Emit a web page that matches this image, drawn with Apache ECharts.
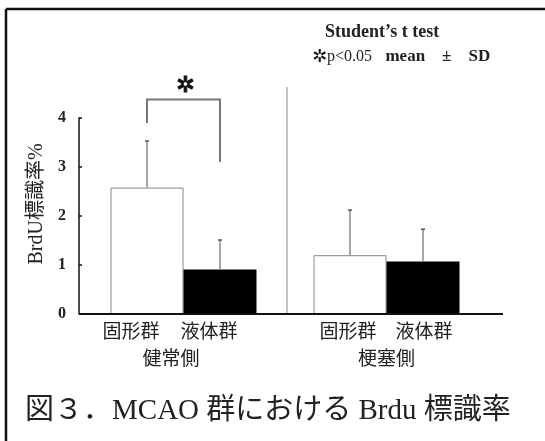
<!DOCTYPE html>
<html><head><meta charset="utf-8">
<script src="https://cdn.jsdelivr.net/npm/echarts@6/dist/echarts.min.js"></script>
<style>html,body{margin:0;padding:0;background:#fff}#c{width:545px;height:441px}</style>
</head><body><div id="c"></div>
<script>
// ---- data ----
const groups = ['健常側', '梗塞側'];
const seriesNames = ['固形群', '液体群'];
const solidMean = [2.58, 1.20];
const solidSD = [0.95, 0.92];
const liquidMean = [0.91, 1.07];
const liquidSD = [0.60, 0.66];
const yTickMax = 4;
const titleLine1 = 'Student’s t test';
const captionText = '図３．MCAO 群における Brdu 標識率';
const yName = 'BrdU標識率%';

// ---- style ----
const SERIF = '"Liberation Serif","Noto Sans CJK JP",serif';
const BAR_W = 73;
const labelShift = [[-16, -2], [-11, 1]]; // [series][group]

const chart = echarts.init(document.getElementById('c'), null, {renderer: 'canvas'});

function barData(means, sIdx) {
  return means.map((v, g) => ({
    value: v,
    label: {offset: [labelShift[sIdx][g], 0]}
  }));
}

const errData = [];
[solidMean, liquidMean].forEach((m, s) => {
  const sd = s === 0 ? solidSD : liquidSD;
  m.forEach((v, g) => errData.push([g, v, sd[g], s]));
});

// significance bracket annotation (data units)
const BR_TOP = 4.38, BR_LEFT = 3.90, BR_RIGHT = 3.10, STAR_Y = 4.64;

const option = {
  animation: false,
  backgroundColor: '#fff',
  grid: {left: 82, right: 57, top: 118, bottom: 127},
  xAxis: {
    type: 'category',
    data: [{value: groups[0], textStyle: {padding: [0, 25, 0, 0]}}, groups[1]],
    axisLine: {show: false},
    axisTick: {show: false},
    axisLabel: {margin: 37, fontSize: 19, color: '#222', fontFamily: SERIF}
  },
  yAxis: {
    type: 'value', min: 0, max: yTickMax, interval: 1, offset: 3,
    name: yName, nameLocation: 'middle', nameGap: 32,
    nameTextStyle: {fontSize: 20, color: '#222', fontFamily: SERIF, padding: [0, 0, 0, 24]},
    axisLine: {show: true, lineStyle: {color: '#111', width: 1.5}},
    axisTick: {show: true, inside: true, length: 3, lineStyle: {color: '#111', width: 1.5}},
    axisLabel: {margin: 13, fontSize: 16, fontWeight: 'bold', color: '#222', fontFamily: SERIF},
    splitLine: {show: false}
  },
  series: [
    {
      name: seriesNames[0], type: 'bar', data: barData(solidMean, 0),
      barWidth: BAR_W, barGap: '0%',
      itemStyle: {color: '#fff', borderColor: '#888', borderWidth: 1},
      label: {show: true, position: 'bottom', distance: 10, formatter: seriesNames[0],
        fontSize: 19, color: '#222', fontFamily: SERIF}
    },
    {
      name: seriesNames[1], type: 'bar', data: barData(liquidMean, 1),
      barWidth: BAR_W, barGap: '0%',
      itemStyle: {color: '#000'},
      label: {show: true, position: 'bottom', distance: 10, formatter: seriesNames[1],
        fontSize: 19, color: '#222', fontFamily: SERIF}
    },
    {
      type: 'custom', name: 'sd', data: errData, z: 5,
      renderItem: function (params, api) {
        const g = api.value(0), m = api.value(1), sd = api.value(2), s = api.value(3);
        const off = s === 0 ? -BAR_W / 2 : BAR_W / 2;
        const top = api.coord([g, m + sd]);
        const base = api.coord([g, m]);
        const x = top[0] + off;
        return {
          type: 'group',
          children: [
            {type: 'line', shape: {x1: x, y1: base[1], x2: x, y2: top[1]},
              style: {stroke: '#8a8a8a', lineWidth: 1.5}},
            {type: 'line', shape: {x1: x - 2, y1: top[1], x2: x + 2, y2: top[1]},
              style: {stroke: '#555', lineWidth: 1.5}}
          ]
        };
      }
    },
    {
      type: 'custom', name: 'bracket', data: [[0]], z: 5, clip: false,
      renderItem: function (params, api) {
        const c = api.coord([0, BR_TOP]);
        const xl = c[0] - BAR_W / 2, xr = c[0] + BAR_W / 2;
        const yl = api.coord([0, BR_LEFT])[1];
        const yr = api.coord([0, BR_RIGHT])[1];
        const ys = api.coord([0, STAR_Y])[1];
        return {
          type: 'group',
          children: [
            {type: 'polyline', shape: {points: [[xl, yl], [xl, c[1]], [xr, c[1]], [xr, yr]]},
              style: {stroke: '#777', lineWidth: 2, fill: null}},
            {type: 'text', x: c[0] + 2, y: ys,
              style: {text: '✲', fontSize: 22, fill: '#111', align: 'center', verticalAlign: 'middle',
                fontFamily: '"DejaVu Sans"', fontWeight: 'bold', stroke: '#111', lineWidth: 1}}
          ]
        };
      }
    }
  ],
  graphic: [
    {type: 'line', shape: {x1: 6, y1: 9, x2: 545, y2: 9}, style: {stroke: '#111', lineWidth: 2.5}},
    {type: 'line', shape: {x1: 6, y1: 9, x2: 6, y2: 441}, style: {stroke: '#111', lineWidth: 2.5}},
    {type: 'line', shape: {x1: 79, y1: 314, x2: 503, y2: 314}, style: {stroke: '#111', lineWidth: 2}, z: 10},
    {type: 'line', shape: {x1: 287, y1: 87, x2: 287, y2: 314}, style: {stroke: '#888', lineWidth: 1}},
    {type: 'text', left: 325, top: 23,
      style: {text: titleLine1, font: 'bold 18px "Liberation Serif"', fill: '#222'}},
    {type: 'text', left: 312, top: 48,
      style: {
        text: '{s|✲}{p|p<0.05}    {b|mean    ±    SD}',
        rich: {
          s: {fontSize: 18, fontFamily: '"DejaVu Sans"', fill: '#111', fontWeight: 'bold'},
          p: {fontSize: 16, fontFamily: '"Liberation Serif"', fill: '#222'},
          b: {fontSize: 17, fontWeight: 'bold', fontFamily: '"Liberation Serif"', fill: '#222'}
        }
      }},
    {type: 'text', left: 25, top: 397,
      style: {text: captionText, fontSize: 29, fontFamily: SERIF, fill: '#222'}}
  ]
};
chart.setOption(option);
</script></body></html>
